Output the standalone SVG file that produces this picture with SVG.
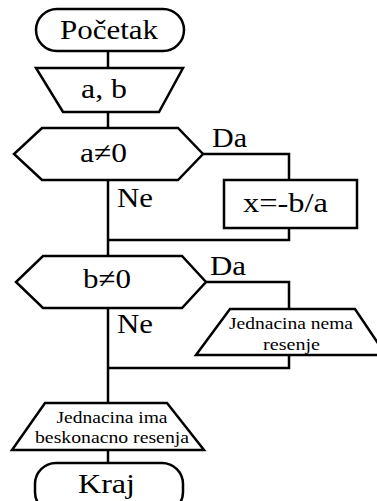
<svg xmlns="http://www.w3.org/2000/svg" width="377" height="501" viewBox="0 0 377 501">
<style>
.s{fill:#fff;stroke:#000;stroke-width:2.5;stroke-linejoin:miter}
.c{fill:none;stroke:#000;stroke-width:2.5}
.t{fill:#000}
.big{font-size:28px}
.lab{font-size:27px}
.sm{font-size:17px}
</style>
<rect width="377" height="501" fill="#fff"/>
<g id="connectors">
<path class="c" d="M108,51V68M108,112V128M108,180V256M108,308V403M108,450V463"/>
<path class="c" d="M203,154H289V180M289,228V240H108"/>
<path class="c" d="M206,282H289V309M289,355V368H108"/>
</g>
<g font-family="'Liberation Serif', 'DejaVu Serif', serif">
<g id="start">
<rect class="s" x="36" y="9" width="148" height="42" rx="21" ry="21"/>
<text class="t big" x="109" y="39" text-anchor="middle" textLength="98" lengthAdjust="spacingAndGlyphs">Početak</text>
</g>
<g id="input">
<polygon class="s" points="36,68 183,68 159,112 63,112"/>
<text class="t big" x="104" y="98" text-anchor="middle" textLength="46" lengthAdjust="spacingAndGlyphs">a, b</text>
</g>
<g id="dec1">
<polygon class="s" points="42,128 178,128 203,154 178,180 42,180 14,154"/>
<text class="t big" x="103.5" y="162" text-anchor="middle" textLength="47" lengthAdjust="spacingAndGlyphs">a≠0</text>
<text class="t lab" x="212" y="147" textLength="35" lengthAdjust="spacingAndGlyphs">Da</text>
<text class="t lab" x="117" y="207" textLength="36" lengthAdjust="spacingAndGlyphs">Ne</text>
</g>
<g id="calc">
<rect class="s" x="224" y="180" width="133" height="48"/>
<text class="t big" x="285.5" y="212" text-anchor="middle" textLength="85" lengthAdjust="spacingAndGlyphs">x=-b/a</text>
</g>
<g id="dec2">
<polygon class="s" points="43,256 182,256 206,282 182,308 43,308 16,282"/>
<text class="t big" x="107" y="288" text-anchor="middle" textLength="48" lengthAdjust="spacingAndGlyphs">b≠0</text>
<text class="t lab" x="210" y="275" textLength="36" lengthAdjust="spacingAndGlyphs">Da</text>
<text class="t lab" x="117" y="333" textLength="36" lengthAdjust="spacingAndGlyphs">Ne</text>
</g>
<g id="out1">
<polygon class="s" points="230,309 355,309 386,355 196,355"/>
<text class="t sm" x="291" y="329" text-anchor="middle" textLength="124" lengthAdjust="spacingAndGlyphs">Jednacina nema</text>
<text class="t sm" x="291.5" y="350" text-anchor="middle" textLength="57" lengthAdjust="spacingAndGlyphs">resenje</text>
</g>
<g id="out2">
<polygon class="s" points="45,403 167,403 204,450 12,450"/>
<text class="t sm" x="112" y="423" text-anchor="middle" textLength="111" lengthAdjust="spacingAndGlyphs">Jednacina ima</text>
<text class="t sm" x="112" y="443" text-anchor="middle" textLength="154" lengthAdjust="spacingAndGlyphs">beskonacno resenja</text>
</g>
<g id="end">
<rect class="s" x="35" y="463" width="148" height="50" rx="21" ry="21"/>
<text class="t big" x="106.5" y="493" text-anchor="middle" textLength="57" lengthAdjust="spacingAndGlyphs">Kraj</text>
</g>
</g>
</svg>
